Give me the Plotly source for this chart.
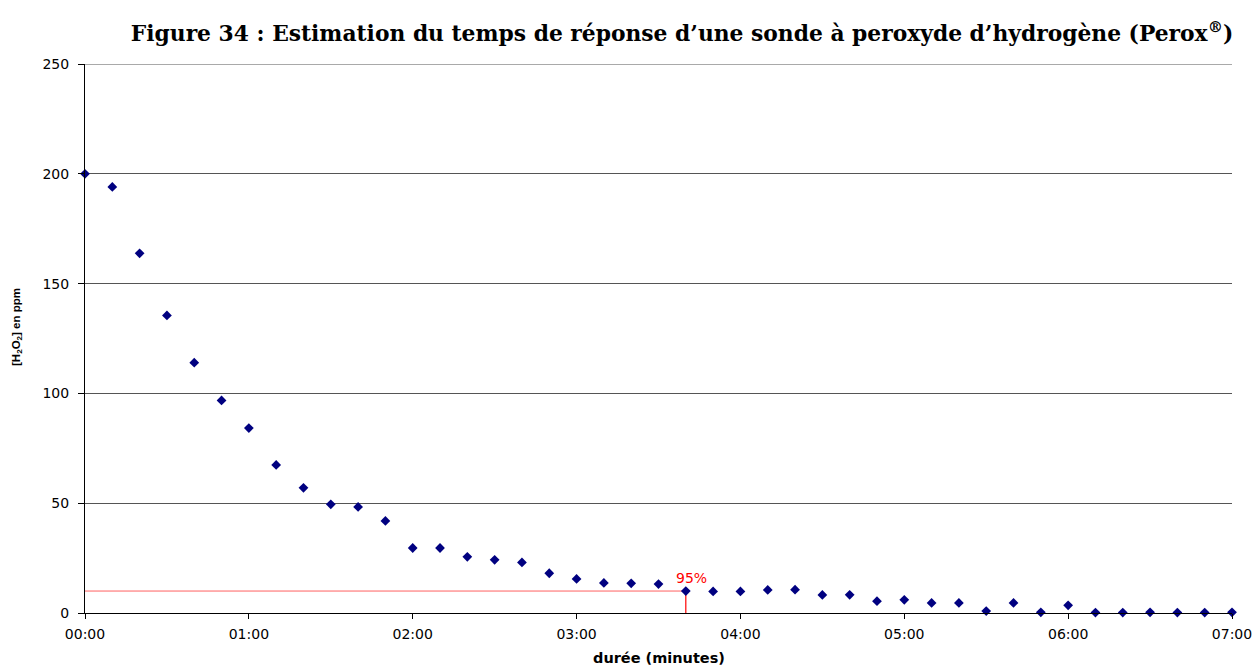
import plotly.graph_objects as go

# Elapsed time (s) and measured H2O2 concentration (ppm), one reading every 10 s
seconds = [0, 10, 20, 30, 40, 50, 60, 70, 80, 90, 100, 110, 120, 130, 140, 150,
           160, 170, 180, 190, 200, 210, 220, 230, 240, 250, 260, 270, 280, 290,
           300, 310, 320, 330, 340, 350, 360, 370, 380, 390, 400, 410, 420]
h2o2_ppm = [200, 194, 163.8, 135.5, 114, 96.8, 84.2, 67.4, 57, 49.5, 48.3, 41.9,
            29.6, 29.6, 25.6, 24.2, 23, 18.1, 15.5, 13.7, 13.5, 13.2, 10, 9.8,
            9.8, 10.5, 10.6, 8.2, 8.3, 5.4, 6, 4.6, 4.6, 0.9, 4.6, 0.3, 3.5,
            0.2, 0.2, 0.3, 0.2, 0.2, 0.3]

x_tickvals = [0, 60, 120, 180, 240, 300, 360, 420]
x_ticktext = ["00:00", "01:00", "02:00", "03:00", "04:00", "05:00", "06:00", "07:00"]
y_tickvals = [0, 50, 100, 150, 200, 250]

# 95 % response point
t95 = 220
c95 = h2o2_ppm[seconds.index(t95)]

SANS = "DejaVu Sans, Arial"
GRID = "#555555"

fig = go.Figure()
fig.add_trace(go.Scatter(
    x=seconds, y=h2o2_ppm, mode="markers",
    marker=dict(symbol="diamond", size=7.5, color="#000080"),
    showlegend=False, cliponaxis=False,
))

# Gridline along the top of the value axis
fig.add_shape(type="line", xref="paper", yref="y", x0=0, x1=1,
              y0=y_tickvals[-1], y1=y_tickvals[-1],
              line=dict(color=GRID, width=1), layer="below")

# Red guide lines marking the 95 % response time
fig.add_shape(type="line", xref="x", yref="y", x0=0, x1=t95, y0=c95, y1=c95,
              line=dict(color="#ff6060", width=1), layer="below")
fig.add_shape(type="line", xref="x", yref="y", x0=t95, x1=t95, y0=0, y1=c95,
              line=dict(color="#ff0000", width=1.2), layer="below")
fig.add_annotation(x=t95, y=c95, xref="x", yref="y", text="95%",
                   showarrow=False, yanchor="bottom", xanchor="center",
                   xshift=6, yshift=3,
                   font=dict(family=SANS, size=14, color="#ff0000"))

# Axis titles
fig.add_annotation(xref="paper", yref="paper", x=0, y=0.521, xshift=-68,
                   text="<b>[H<sub>2</sub>O<sub>2</sub>] en ppm</b>", textangle=-90,
                   showarrow=False, xanchor="center", yanchor="middle",
                   font=dict(family="Liberation Sans, Arial", size=11.5, color="black"))
fig.add_annotation(xref="paper", yref="paper", x=0.5, y=0, yshift=-45,
                   text="<b>durée (minutes)</b>",
                   showarrow=False, xanchor="center", yanchor="middle",
                   font=dict(family=SANS, size=14.5, color="black"))

fig.update_layout(
    width=1256, height=666,
    margin=dict(l=85, r=24, t=64, b=53, autoexpand=False),
    paper_bgcolor="white", plot_bgcolor="white",
    font=dict(family=SANS, size=14, color="black"),
    title=dict(
        text="<b>Figure 34 : Estimation du temps de réponse d’une sonde à peroxyde d’hydrogène (Perox<sup>®</sup>)</b>",
        x=0.543, xref="container", xanchor="center",
        y=0.95, yref="container", yanchor="middle",
        font=dict(family="DejaVu Serif, Liberation Serif", size=21.8, color="black"),
    ),
    xaxis=dict(
        range=[0, 420], tickmode="array", tickvals=x_tickvals, ticktext=x_ticktext,
        showgrid=False, zeroline=False, showline=True, linecolor="black", linewidth=1,
        ticks="outside", ticklen=5, tickcolor="black", ticklabelstandoff=3,
        automargin=False,
    ),
    yaxis=dict(
        range=[0, 250], tickmode="array", tickvals=y_tickvals,
        showgrid=True, gridcolor=GRID, gridwidth=1, zeroline=False,
        showline=True, linecolor="black", linewidth=1,
        ticks="outside", ticklen=6, tickcolor="black", ticklabelstandoff=6,
        automargin=False,
    ),
)

fig.write_html("out.html")
